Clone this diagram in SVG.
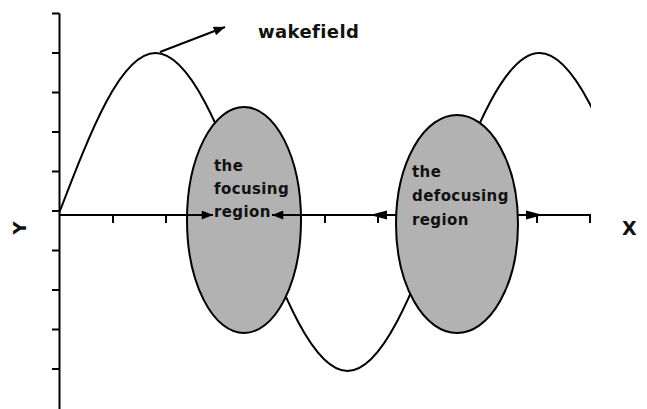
<svg xmlns="http://www.w3.org/2000/svg" width="647" height="409" viewBox="0 0 647 409">
<style>
.ax{stroke:#000;stroke-width:2;fill:none}
.crv{stroke:#000;stroke-width:2;fill:none}
.reg{fill:#b2b2b2;stroke:#000;stroke-width:2}
.lbl{font-family:"DejaVu Sans","Liberation Sans",sans-serif;font-weight:bold;fill:#111}
.sp{letter-spacing:0.4px}
.ah{fill:#000}
</style>
<defs>
<marker id="arr" viewBox="0 0 10 8" refX="10" refY="4" markerWidth="12" markerHeight="9" markerUnits="userSpaceOnUse" orient="auto">
<path d="M0,0 L10,4 L0,8 Z" fill="#000"/>
</marker>
<clipPath id="clip"><rect x="0" y="0" width="591" height="409"/></clipPath>
</defs>
<rect width="647" height="409" fill="#fff"/>
<g id="axes">
<path class="ax" d="M59.5,13.5 V409 M59.5,215 H590 V223"/>
<path class="ax" d="M52,13.5 H59.5 M52,53 H59.5 M52,92.5 H59.5 M52,132 H59.5 M52,171.5 H59.5 M52,211 H59.5 M52,250.5 H59.5 M52,290 H59.5 M52,329.5 H59.5 M52,369 H59.5"/>
<path class="ax" d="M113,215 V223 M166,215 V223 M325,215 V223 M378,215 V223 M537,215 V223"/>
</g>
<g id="wave">
<path class="crv" clip-path="url(#clip)" d="M59.5,212 C90.81,130.54 120.76,53 155.5,53 S220.19,130.54 251.5,212 S312.76,371 347.5,371 S412.19,293.46 443.5,212 S504.76,53 539.5,53 S604.19,130.54 635.5,212"/>
</g>
<g id="focusing-region">
<ellipse class="reg" cx="244" cy="220" rx="57" ry="113"/>
<text class="lbl sp" font-size="15" x="214" y="171">the</text>
<text class="lbl sp" font-size="15" x="214" y="194">focusing</text>
<text class="lbl sp" font-size="15" x="214" y="217">region</text>
</g>
<g id="defocusing-region">
<ellipse class="reg" cx="457" cy="224" rx="61" ry="109"/>
<text class="lbl sp" font-size="15" x="412" y="177">the</text>
<text class="lbl sp" font-size="15" x="412" y="201">defocusing</text>
<text class="lbl sp" font-size="15" x="412" y="225">region</text>
</g>
<g id="connectors">
<line class="ax" x1="187" y1="215" x2="213" y2="215" marker-end="url(#arr)"/>
<line class="ax" x1="300" y1="215" x2="272" y2="215" marker-end="url(#arr)"/>
<path class="ah" d="M370,215 L387,210.5 L387,219.5 Z"/>
<path class="ah" d="M543,215 L526,210.5 L526,219.5 Z"/>
<line class="ax" x1="160" y1="52" x2="225" y2="27" marker-end="url(#arr)"/>
</g>
<g id="labels">
<text class="lbl sp" font-size="18" x="258" y="38">wakefield</text>
<text class="lbl" font-size="19" x="622" y="235">X</text>
<text class="lbl" font-size="18" text-anchor="middle" transform="translate(26,228) rotate(-90)">Y</text>
</g>
</svg>
